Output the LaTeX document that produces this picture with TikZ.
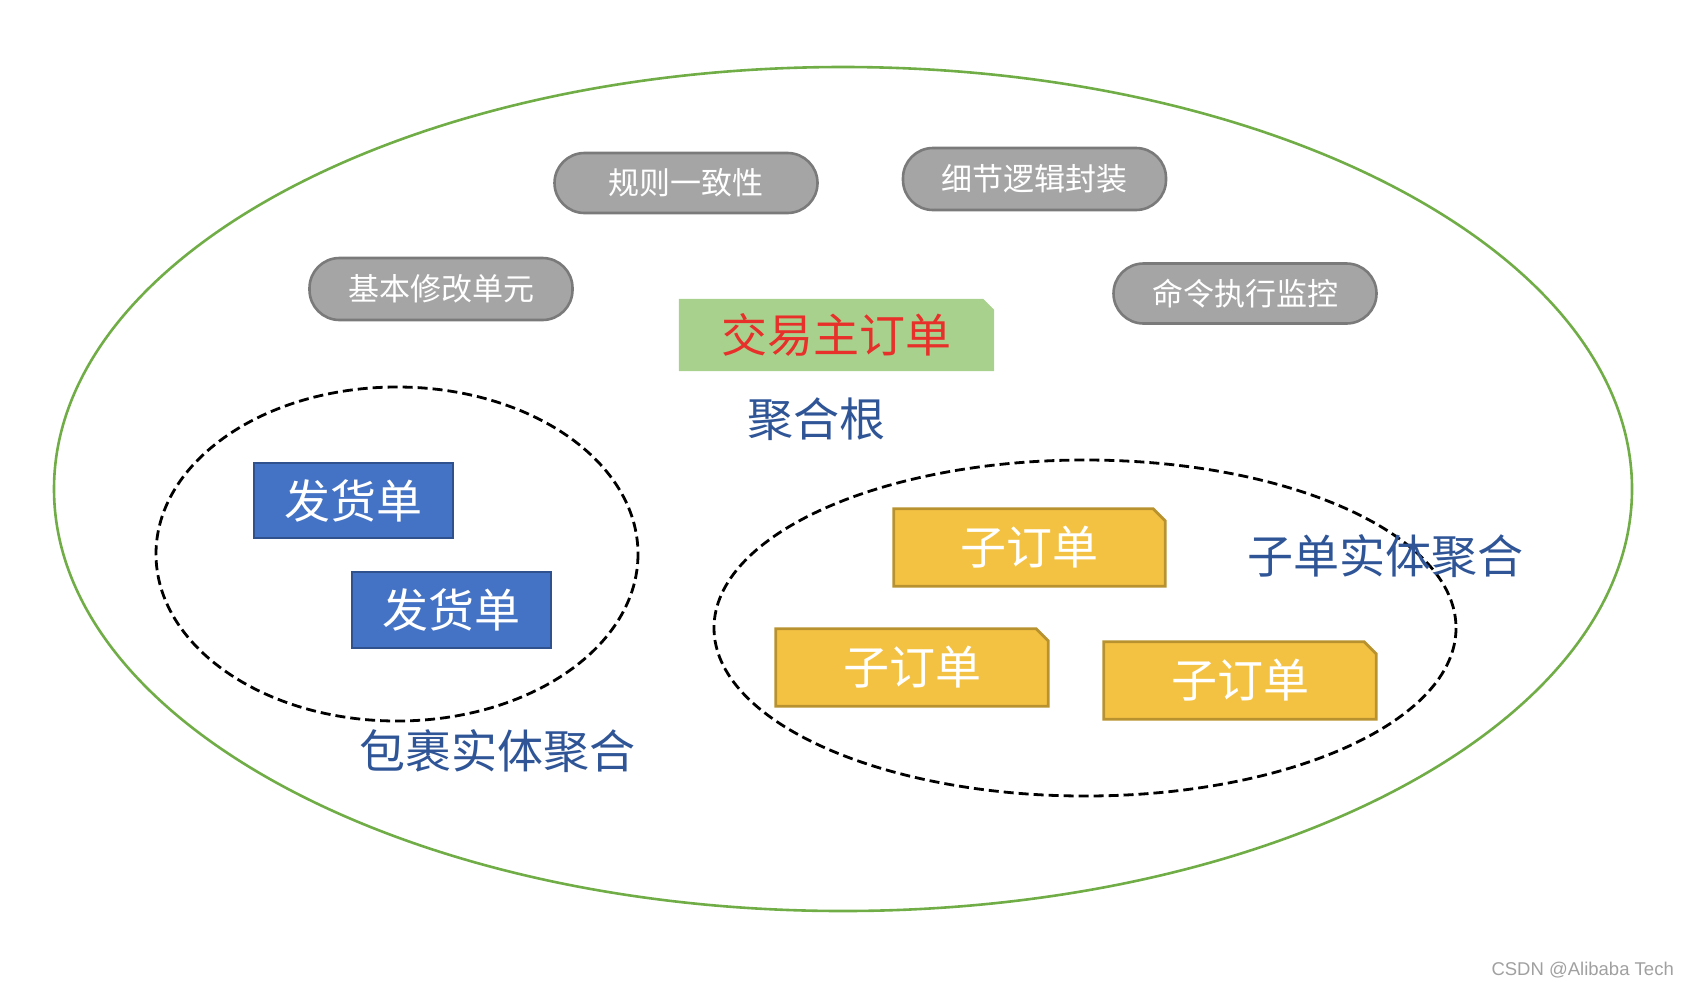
\documentclass[tikz,border=0pt]{standalone}
\usepackage{fontspec}
\setmainfont{Noto Sans CJK SC}
\newfontfamily\latinfont{Liberation Sans}
\usetikzlibrary{backgrounds}
\definecolor{outergreen}{HTML}{70AD47}
\definecolor{pillgray}{HTML}{A5A5A5}
\definecolor{pillborder}{HTML}{7A7A7A}
\definecolor{rootgreen}{HTML}{A9D18E}
\definecolor{rootred}{HTML}{E8302A}
\definecolor{labelblue}{HTML}{2F5597}
\definecolor{boxblue}{HTML}{4472C4}
\definecolor{boxblueborder}{HTML}{2F528F}
\definecolor{subyellow}{HTML}{F4C242}
\definecolor{subborder}{HTML}{B8922E}
\definecolor{markgray}{HTML}{A0A0A0}
\tikzset{
  pill/.style={fill=pillgray, draw=pillborder, line width=2.6pt, rounded corners=30pt,
    minimum width=263pt, minimum height=60pt, inner sep=0pt, text=white,
    font=\fontsize{31}{34}\selectfont},
  boxtext/.style={inner sep=0pt, font=\fontsize{46}{50}\selectfont},
  bluebox/.style={boxtext, fill=boxblue, draw=boxblueborder, line width=2.5pt, text=white,
    minimum width=199pt, minimum height=75pt},
  chamnode/.style={boxtext, minimum height=77pt},
  grouplabel/.style={inner sep=0pt, text=labelblue, font=\fontsize{46}{50}\selectfont},
  dashedring/.style={dash pattern=on 10pt off 5pt, line width=2.8pt, black},
  yellowfill/.style={fill=subyellow, draw=subborder, line width=2.8pt},
  greenfill/.style={fill=rootgreen},
}
\newcommand\chamfershape[3]{%
  \path[#2] (#1.south west) -- (#1.north west) -- ([xshift=-#3]#1.north east)
    -- ([yshift=-#3]#1.north east) -- (#1.south east) -- cycle;}
\begin{document}
\begin{tikzpicture}[x=1pt,y=-1pt]
\useasboundingbox (0,0) rectangle (1688,986);

% gray pills
\node[pill] (p1) at (686,183) {规则一致性};
\node[pill, minimum height=62pt] (p2) at (1034.5,179) {细节逻辑封装};
\node[pill, minimum height=62pt] (p3) at (441,289) {基本修改单元};
\node[pill] (p4) at (1245,293.5) {命令执行监控};

% aggregate root
\node[boxtext, text=rootred, minimum width=315pt, minimum height=72pt] (root) at (836.5,335) {交易主订单};
\node[grouplabel] (rootlabel) at (816,419) {聚合根};

% delivery notes
\node[bluebox] (d1) at (353.5,500.5) {发货单};
\node[bluebox, minimum height=76pt] (d2) at (451.5,610) {发货单};
\node[grouplabel] (dlabel) at (497,751) {包裹实体聚合};

% sub orders
\node[chamnode, text=white, minimum width=271pt] (s1) at (1029.5,547.5) {子订单};
\node[chamnode, text=white, minimum width=272pt] (s2) at (912,667.5) {子订单};
\node[chamnode, text=white, minimum width=272pt] (s3) at (1240,680.5) {子订单};
\node[grouplabel] (slabel) at (1385,556) {子单实体聚合};

% watermark
\node[inner sep=0pt, anchor=east, text=markgray, font=\latinfont\fontsize{18.5}{20}\selectfont] (mark) at (1674,970) {CSDN @Alibaba Tech};

\begin{pgfonlayer}{background}
  \draw[outergreen, line width=2.6pt] (843,489) ellipse [x radius=789, y radius=422];
  \draw[dashedring] (397,554) ellipse [x radius=241, y radius=167];
  \draw[dashedring] (1085,628) ellipse [x radius=371, y radius=168];
  \chamfershape{root}{greenfill}{11pt}
  \chamfershape{s1}{yellowfill}{12pt}
  \chamfershape{s2}{yellowfill}{12pt}
  \chamfershape{s3}{yellowfill}{12pt}
\end{pgfonlayer}
\end{tikzpicture}
\end{document}
